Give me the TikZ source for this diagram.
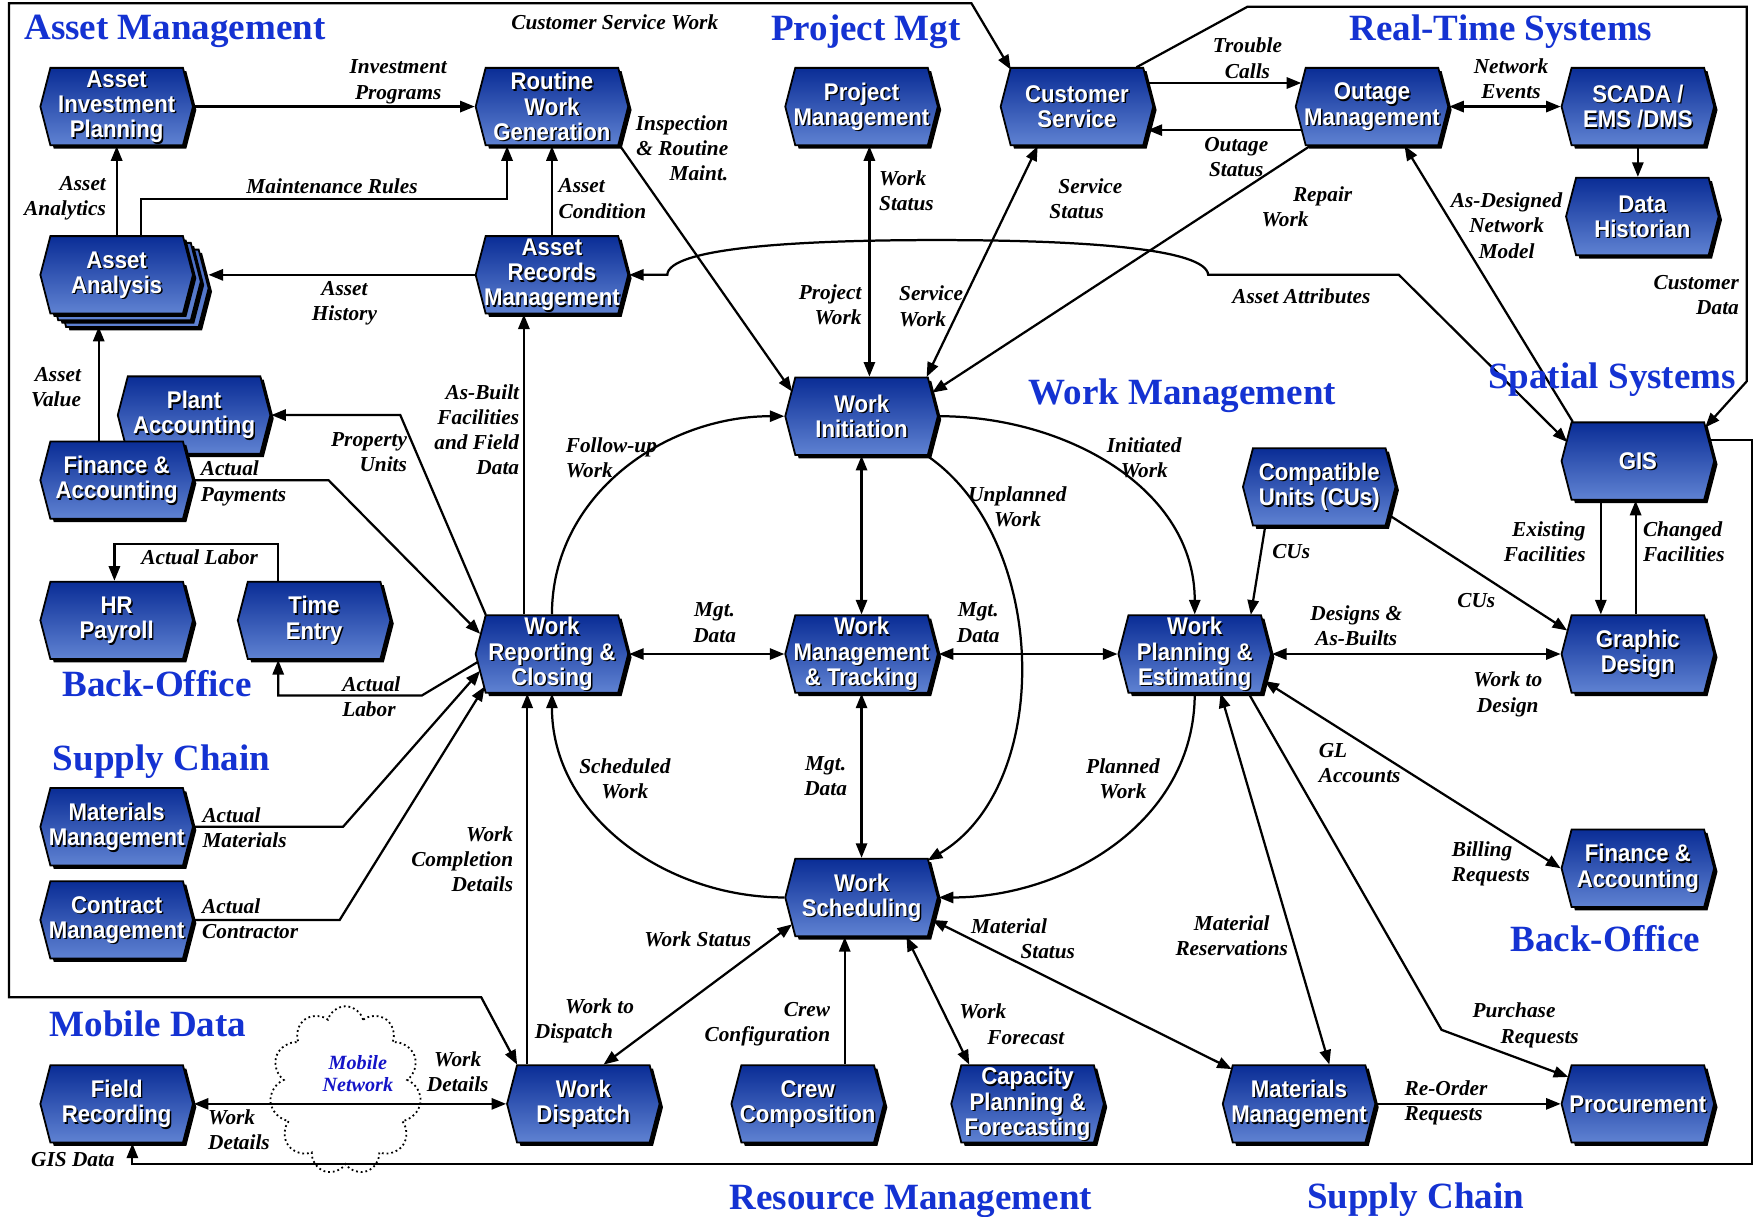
\documentclass[tikz,border=0pt]{standalone}
\usepackage{fontspec}
\newfontfamily\boxfont[FakeStretch=0.92]{Liberation Sans}
\newfontfamily\lblfont{Liberation Serif}
\usetikzlibrary{shapes.symbols,shadows,arrows.meta,calc,positioning}

\definecolor{blktop}{RGB}{10,45,150}
\definecolor{blkbot}{RGB}{95,130,210}
\definecolor{ttlblue}{RGB}{20,50,210}
\definecolor{mobblue}{RGB}{20,20,200}

% box with shadowed white text
\newcommand\blkbox[3]{%
  \node[blk] (#1) at (#2) {};
  \node[blktxt, text=black] (#1sh) at ($(#1)+(1.3,-1.3)$) {#3};
  \node[blktxt] (#1txt) at (#1) {#3};
}

\begin{document}
\begin{tikzpicture}[x=1pt, y=1pt,
  blk/.style={signal, signal to=east and west, signal pointer angle=151, draw=black, line width=1.6pt,
    top color=blktop, bottom color=blkbot, minimum width=136pt, minimum height=69pt, inner sep=0pt,
    drop shadow={shadow xshift=3pt, shadow yshift=-3pt, fill=black, opacity=1}},
  blktxt/.style={font=\boxfont\bfseries\fontsize{21.5}{22.5}\selectfont, align=center, text=white, inner sep=0pt},
  lbl/.style={font=\lblfont\bfseries\itshape\fontsize{19}{22.5}\selectfont, inner sep=0pt},
  ttl/.style={font=\lblfont\bfseries\fontsize{33}{36}\selectfont, text=ttlblue, inner sep=0pt, anchor=base},
  arr/.style={line width=2pt, -{Triangle[length=13pt,width=10pt]}},
  arr2/.style={line width=2pt, {Triangle[length=13pt,width=10pt]}-{Triangle[length=13pt,width=10pt]}}]

\fill[white] (0,0) rectangle (1568,-1084);
\useasboundingbox (0,0) rectangle (1568,-1084);

% boxes
\blkbox{AIP}{104,-95}{Asset\\Investment\\Planning}
\blkbox{RWG}{492,-95}{Routine\\Work\\Generation}
\blkbox{PM}{768,-95}{Project\\Management}
\blkbox{CS}{960,-95}{Customer\\Service}
\blkbox{OM}{1223,-95}{Outage\\Management}
\blkbox{SCADA}{1460,-95}{SCADA /\\EMS /DMS}
\blkbox{DH}{1464,-193}{Data\\Historian}
\node[blk, top color=blkbot!70!blktop] (AAc2) at (118,-257) {};
\node[blk, top color=blkbot!70!blktop] (AAc1) at (111,-251) {};
\blkbox{AA}{104,-245}{Asset\\Analysis}
\blkbox{ARM}{492,-245}{Asset\\Records\\Management}
\blkbox{PA}{173,-370}{Plant\\Accounting}
\blkbox{FA1}{104,-428}{Finance \&\\Accounting}
\blkbox{WI}{768,-371}{Work\\Initiation}
\blkbox{CU}{1176,-434}{Compatible\\Units (CUs)}
\blkbox{GIS}{1460,-411}{GIS}
\blkbox{HR}{104,-553}{HR\\Payroll}
\blkbox{TE}{280,-553}{Time\\Entry}
\blkbox{WRC}{492,-583}{Work\\Reporting \&\\Closing}
\blkbox{WMT}{768,-583}{Work\\Management\\\& Tracking}
\blkbox{WPE}{1065,-583}{Work\\Planning \&\\Estimating}
\blkbox{GD}{1460,-583}{Graphic\\Design}
\blkbox{MM1}{104,-737}{Materials\\Management}
\blkbox{FA2}{1460,-774}{Finance \&\\Accounting}
\blkbox{CM}{104,-820}{Contract\\Management}
\blkbox{WS}{768,-800}{Work\\Scheduling}
\blkbox{FR}{104,-984}{Field\\Recording}
\blkbox{WD}{520,-984}{Work\\Dispatch}
\blkbox{CC}{720,-984}{Crew\\Composition}
\blkbox{CPF}{916,-984}{Capacity\\Planning \&\\Forecasting}
\blkbox{MM2}{1158,-984}{Materials\\Management}
\blkbox{PR}{1460,-984}{Procurement}

\node[cloud, cloud puffs=11, aspect=0.9, draw, line width=1.6pt, dash pattern=on 1.6pt off 2.6pt,
  minimum width=135pt, minimum height=150pt] (mobnet) at (308,-972) {};

% asset management
\draw[arr] (AIP.east) -- (RWG.west);
\draw[arr] (AA.north) -- (AIP.south);
\draw[arr] ($(AA.north)+(22,0)$) -- ++(0,32) -| ($(RWG.south)+(-40,0)$);
\draw[arr] (ARM.north) -- (RWG.south);
\draw[arr] (ARM.west) -- ($(AA.east)+(13,0)$);
\draw[arr] ($(RWG)+(60,-34)$) -- ($(WI)+(-62,22)$);
\draw[arr] ($(FA1.north)+(-16,0)$) -- ($(AA.south)+(-16,-11)$);
\draw[arr] ($(WRC)+(-59,35)$) -- ($(PA.east)+(115,0)$) -- (PA.east);
\draw[arr] (FA1.east) -- ++(120,0) -- ($(WRC)+(-64,18)$);
\draw[arr] ($(WRC.north)+(-25,0)$) -- ($(ARM.south)+(-25,0)$);
\draw[arr] ($(TE.north)+(-32,0)$) -- ++(0,33) -| ($(HR.north)+(-2,0)$);
\draw[arr] ($(WRC)+(-66,-7)$) -- ++(-50,-30) -| ($(TE.south)+(-32,0)$);
\draw[arr] (MM1.east) -- ++(133,0) -- ($(WRC)+(-64,-15)$);
\draw[arr] (CM.east) -- ++(130,0) -- ($(WRC)+(-60,-29)$);

% work management
\draw[arr2] (WRC.east) -- (WMT.west);
\draw[arr2] (WMT.east) -- (WPE.west);
\draw[arr2] (WPE.east) -- (GD.west);
\draw[arr2] (WI.south) -- (WMT.north);
\draw[arr2] (WMT.south) -- (WS.north);
\draw[arr2] ($(PM.south)+(7,0)$) -- ($(WI.north)+(7,0)$);
\draw[arr2] ($(CS.south)+(-35,0)$) -- ($(WI)+(58,35)$);
\draw[arr] ($(OM)+(-55,-35)$) -- ($(WI)+(63,21)$);
\draw[arr] (WI.east) to[out=0,in=90] (WPE.north);
\draw[arr] ($(WI)+(58,-35)$) .. controls (935,-480) and (940,-700) .. ($(WS)+(59,33)$);
\draw[arr] (WRC.north) to[out=90,in=180] (WI.west);
\draw[arr] (WS.west) to[out=180,in=-90] (WRC.south);
\draw[arr] (WPE.south) to[out=-90,in=0] (WS.east);

% real-time and spatial systems
\draw[arr] ($(CS)+(63,21)$) -- ($(OM)+(-63,21)$);
\draw[arr] ($(OM)+(-63,-21)$) -- ($(CS)+(63,-21)$);
\draw[arr2] (OM.east) -- (SCADA.west);
\draw[arr] (SCADA.south) -- ($(DH.north)+(-4,0)$);
\draw[arr] ($(GIS)+(-58,35)$) -- ($(OM)+(29,-35)$);
\draw[arr2] (ARM.east) -- ++(34,0) .. controls (596,-222) and (700,-214) .. (835,-214)
  .. controls (970,-214) and (1075,-222) .. (1077,-245) -- (1247,-245) -- ($(GIS)+(-63,17)$);
\draw[arr] ($(CU)+(-48,-34)$) -- ($(WPE)+(50,35)$);
\draw[arr] ($(CU)+(62,-25)$) -- ($(GD)+(-63,21)$);
\draw[arr] ($(GIS.south)+(-33,0)$) -- ($(GD.north)+(-33,0)$);
\draw[arr] ($(GD.north)+(-2,0)$) -- ($(GIS.south)+(-2,0)$);

% supply chain and resources
\draw[arr2] ($(WPE)+(62,-24)$) -- (FA2.west);
\draw[arr2] ($(WPE)+(23,-35)$) -- ($(MM2)+(27,35)$);
\draw[arr] ($(WPE)+(48,-35)$) -- ($(PR)+(-175,66)$) -- ($(PR)+(-62,24)$);
\draw[arr] (MM2.east) -- (PR.west);
\draw[arr2] ($(WS)+(63,-20)$) -- ($(MM2)+(-60,31)$);
\draw[arr2] ($(WS)+(40,-35)$) -- ($(CPF)+(-52,35)$);
\draw[arr] ($(CC.north)+(33,0)$) -- ($(WS.south)+(-15,0)$);
\draw[arr2] ($(WD)+(18,35)$) -- ($(WS)+(-62,-24)$);
\draw[arr] ($(WD.north)+(-50,0)$) -- ($(WRC.south)+(-22,0)$);
\draw[arr2] (FR.east) -- (WD.west);

% frame lines
\draw[arr2] ($(WD)+(-59,35)$) -- ++(-32,60) -| (8,-3) -- (866,-3) -- ($(CS)+(-59,33)$);
\draw[arr] ($(CS)+(53,35)$) -- (1112,-6) -- (1557,-6) -- (1557,-340) -- ($(GIS)+(60,30)$);
\draw[arr] ($(GIS)+(63,19)$) -- (1562,-392) |- ($(FR.south)+(14,-18)$) -- ($(FR.south)+(14,0)$);

% labels
\node[lbl] (lCSW) at (548,-20) {Customer Service Work};
\node[lbl, align=center] (lInv) at (355,-73) {Investment\\Programs};
\node[lbl, align=right] (lAnl) at (58,-177) {Asset\\Analytics};
\node[lbl] (lMR) at (296,-166) {Maintenance Rules};
\node[lbl, align=left] (lCond) at (537,-177) {Asset\\Condition};
\node[lbl, align=center] (lHist) at (307,-270) {Asset\\History};
\node[lbl, align=right] (lInsp) at (608,-132) {Inspection\\\& Routine\\Maint.};
\node[lbl, align=right] (lVal) at (50,-345) {Asset\\Value};
\node[lbl, align=right] (lProp) at (329,-403) {Property\\Units};
\node[lbl, align=right] (lAsB) at (425,-383) {As-Built\\Facilities\\and Field\\Data};
\node[lbl, align=left] (lPay) at (217,-431) {Actual\\Payments};
\node[lbl] (lLab1) at (178,-497) {Actual Labor};
\node[lbl, align=left] (lLab2) at (331,-621) {Actual\\Labor};
\node[lbl, align=left] (lFol) at (545,-408) {Follow-up\\Work};
\node[lbl, align=right] (lPW) at (740,-272) {Project\\Work};
\node[lbl, align=left] (lWSt) at (808,-170) {Work\\Status};
\node[lbl, align=left] (lSSt) at (968,-177) {\hspace*{8pt}Service\\Status};
\node[lbl, align=left] (lSW) at (830,-273) {Service\\Work};
\node[lbl, align=left] (lRep) at (1165,-184) {\hspace*{28pt}Repair\\Work};
\node[lbl, align=center] (lTrb) at (1112,-52) {Trouble\\Calls};
\node[lbl, align=center] (lOut) at (1102,-140) {Outage\\Status};
\node[lbl, align=center] (lNet) at (1347,-70) {Network\\Events};
\node[lbl, align=center] (lDes) at (1343,-201) {As-Designed\\Network\\Model};
\node[lbl] (lAtt) at (1160,-264) {Asset Attributes};
\node[lbl, align=right] (lCD) at (1512,-263) {Customer\\Data};
\node[lbl, align=center] (lIni) at (1020,-408) {Initiated\\Work};
\node[lbl, align=center] (lUnp) at (907,-452) {Unplanned\\Work};
\node[lbl, align=center] (lMgt1) at (637,-555) {Mgt.\\Data};
\node[lbl, align=center] (lMgt2) at (872,-555) {Mgt.\\Data};
\node[lbl, align=center] (lMgt3) at (736,-692) {Mgt.\\Data};
\node[lbl, align=center] (lDsg) at (1209,-558) {Designs \&\\As-Builts};
\node[lbl, align=center] (lWtD) at (1344,-619) {Work to\\Design};
\node[lbl] (lCU1) at (1151,-492) {CUs};
\node[lbl] (lCU2) at (1316,-535) {CUs};
\node[lbl, align=right] (lExi) at (1377,-483) {Existing\\Facilities};
\node[lbl, align=left] (lChg) at (1501,-483) {Changed\\Facilities};
\node[lbl, align=center] (lSch) at (557,-694) {Scheduled\\Work};
\node[lbl, align=center] (lPln) at (1001,-694) {Planned\\Work};
\node[lbl, align=left] (lGL) at (1212,-680) {GL\\Accounts};
\node[lbl, align=left] (lBil) at (1329,-770) {Billing\\Requests};
\node[lbl, align=left] (lMSt) at (912,-837) {Material\\\hspace*{44pt}Status};
\node[lbl, align=center] (lMRes) at (1098,-834) {Material\\Reservations};
\node[lbl, align=left] (lPur) at (1360,-914) {Purchase\\\hspace*{25pt}Requests};
\node[lbl, align=left] (lReo) at (1289,-983) {Re-Order\\Requests};
\node[lbl, align=right] (lWCD) at (412,-766) {Work\\Completion\\Details};
\node[lbl] (lWSt2) at (622,-837) {Work Status};
\node[lbl, align=left] (lWDis) at (521,-910) {\hspace*{27pt}Work to\\Dispatch};
\node[lbl, align=right] (lCrew) at (684,-913) {Crew\\Configuration};
\node[lbl, align=left] (lFor) at (902,-913) {Work\\\hspace*{25pt}Forecast};
\node[lbl, align=left] (lMat) at (218,-738) {Actual\\Materials};
\node[lbl, align=left] (lCon) at (223,-819) {Actual\\Contractor};
\node[lbl, align=center] (lWD1) at (408,-955) {Work\\Details};
\node[lbl, align=left] (lWD2) at (213,-1007) {Work\\Details};
\node[lbl] (lGIS) at (65,-1034) {GIS Data};
\node[lbl, align=center, font=\lblfont\bfseries\itshape\fontsize{18}{20}\selectfont, text=mobblue] (lMob) at (319,-957) {Mobile\\Network};

% area titles
\node[ttl] (tAM) at (156,-35) {Asset Management};
\node[ttl] (tPM) at (772,-36) {Project Mgt};
\node[ttl] (tRT) at (1338,-36) {Real-Time Systems};
\node[ttl] (tSS) at (1437,-346) {Spatial Systems};
\node[ttl] (tWM) at (1054,-361) {Work Management};
\node[ttl] (tBO1) at (140,-621) {Back-Office};
\node[ttl] (tSC1) at (144,-687) {Supply Chain};
\node[ttl] (tMD) at (132,-924) {Mobile Data};
\node[ttl] (tBO2) at (1431,-848) {Back-Office};
\node[ttl] (tRM) at (812,-1078) {Resource Management};
\node[ttl] (tSC2) at (1262,-1077) {Supply Chain};
\end{tikzpicture}
\end{document}
